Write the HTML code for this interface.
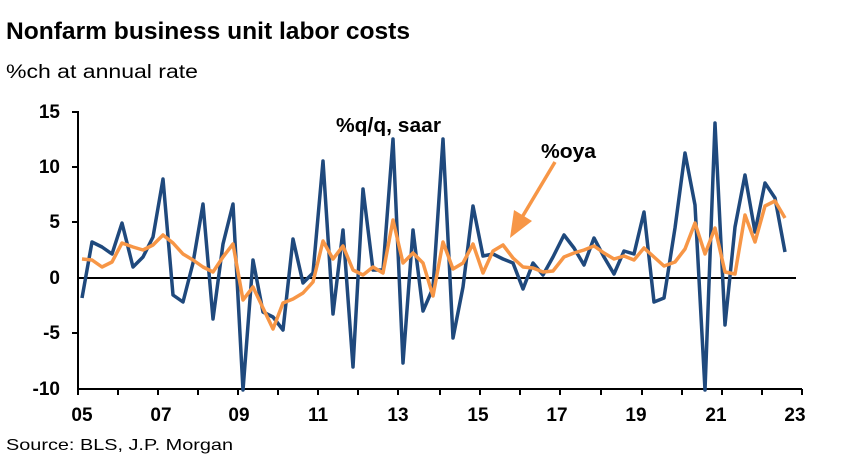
<!DOCTYPE html>
<html><head><style>
body{margin:0;background:#fff;width:852px;height:470px;overflow:hidden;font-family:"Liberation Sans",Arial,sans-serif}
</style></head><body>
<svg width="852" height="470" viewBox="0 0 852 470" xmlns="http://www.w3.org/2000/svg" font-family="Liberation Sans, Arial, sans-serif">
<text x="6" y="39" font-size="24" font-weight="bold" fill="#000" textLength="404" lengthAdjust="spacingAndGlyphs">Nonfarm business unit labor costs</text>
<text x="6" y="78" font-size="19" fill="#000" textLength="192" lengthAdjust="spacingAndGlyphs">%ch at annual rate</text>
<g font-size="19" font-weight="bold" text-anchor="end" fill="#000">
<text x="60" y="118">15</text><text x="60" y="173">10</text><text x="60" y="228">5</text>
<text x="60" y="284">0</text><text x="60" y="339">-5</text><text x="60" y="395">-10</text>
</g>
<g font-size="19" font-weight="bold" text-anchor="middle" fill="#000">
<text x="82" y="421">05</text><text x="161" y="421">07</text><text x="239" y="421">09</text><text x="318" y="421">11</text><text x="398" y="421">13</text><text x="478" y="421">15</text><text x="557" y="421">17</text><text x="636" y="421">19</text><text x="716" y="421">21</text><text x="795" y="421">23</text>
</g>
<text x="6" y="450" font-size="16" fill="#000" textLength="227" lengthAdjust="spacingAndGlyphs">Source: BLS, J.P. Morgan</text>
<g stroke="#000" stroke-width="2" fill="none">
<line x1="78" y1="111" x2="78" y2="390"/>
<line x1="72" y1="112" x2="78" y2="112"/><line x1="72" y1="167" x2="78" y2="167"/><line x1="72" y1="222" x2="78" y2="222"/><line x1="72" y1="333" x2="78" y2="333"/>
<line x1="78" y1="389" x2="802" y2="389"/>
<line x1="78" y1="278" x2="796" y2="278"/>
</g>
<g stroke="#000" stroke-width="2">
<line x1="78" y1="389" x2="78" y2="395"/><line x1="118" y1="389" x2="118" y2="395"/><line x1="158" y1="389" x2="158" y2="395"/><line x1="198" y1="389" x2="198" y2="395"/><line x1="238" y1="389" x2="238" y2="395"/><line x1="278" y1="389" x2="278" y2="395"/><line x1="318" y1="389" x2="318" y2="395"/><line x1="358" y1="389" x2="358" y2="395"/><line x1="398" y1="389" x2="398" y2="395"/><line x1="440" y1="389" x2="440" y2="395"/><line x1="480" y1="389" x2="480" y2="395"/><line x1="520" y1="389" x2="520" y2="395"/><line x1="560" y1="389" x2="560" y2="395"/><line x1="601" y1="389" x2="601" y2="395"/><line x1="642" y1="389" x2="642" y2="395"/><line x1="682" y1="389" x2="682" y2="395"/><line x1="722" y1="389" x2="722" y2="395"/><line x1="762" y1="389" x2="762" y2="395"/><line x1="802" y1="389" x2="802" y2="395"/>
</g>
<polyline fill="none" stroke="#1f497d" stroke-width="3.5" stroke-linejoin="round" points="82,298 92,242 102,247 112,254 122,223 133,267 143,257 153,237 163,179 173,295 183,302 193,263 203,204 213,319 223,244 233,204 243,390 253,260 263,312 273,317 283,330 293,239 303,283 313,273 323,161 333,314 343,230 353,367 363,189 373,270 383,270 393,139 403,363 413,230 423,311 433,288 443,139 453,338 463,287 473,206 483,256 493,254 503,259 513,263 523,289 533,263 543,275 553,257 564,235 574,248 584,265 594,238 604,257 614,274 624,251 634,254 644,212 654,302 664,298 675,228 685,153 695,205 705,390 715,123 725,325 735,227 745,175 755,232 765,183 775,198 785,252"/>
<polyline fill="none" stroke="#f79646" stroke-width="3.5" stroke-linejoin="round" points="82,259 92,260 102,267 112,262 122,243 133,247 143,250 153,245 163,235 173,243 183,254 193,260 203,267 213,272 223,257 233,244 243,300 253,287 263,308 273,329 283,303 293,299 303,293 313,282 323,241 333,259 343,246 353,270 363,275 373,267 383,273 393,220 403,263 413,253 423,263 433,296 443,242 453,269 463,263 473,244 483,273 493,251 503,245 513,258 523,267 533,268 543,272 553,271 564,257 574,253 584,250 594,246 604,253 614,259 624,256 634,260 644,248 654,257 664,266 675,262 685,249 695,223 705,254 715,228 725,272 735,274 745,215 755,242 765,206 775,201 785,218"/>
<line x1="555" y1="162" x2="521" y2="219" stroke="#f79646" stroke-width="3.5"/>
<polygon points="510,238 514,210 532,221" fill="#f79646"/>
<text x="336" y="132" font-size="20" font-weight="bold" fill="#000" textLength="105" lengthAdjust="spacingAndGlyphs">%q/q, saar</text>
<text x="541" y="158" font-size="20" font-weight="bold" fill="#000" textLength="55" lengthAdjust="spacingAndGlyphs">%oya</text>
</svg>
</body></html>
